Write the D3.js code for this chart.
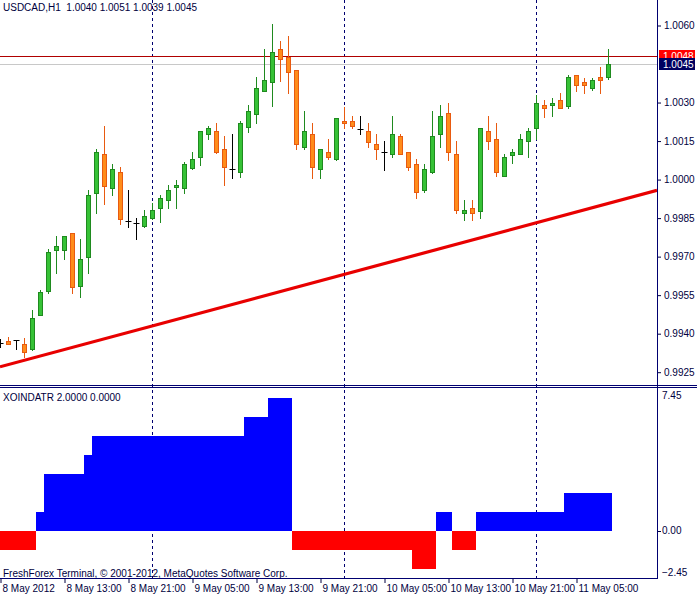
<!DOCTYPE html>
<html>
<head>
<meta charset="utf-8">
<script src="https://cdn.jsdelivr.net/npm/d3@7"></script>
<style>
html,body{margin:0;padding:0;background:#fff;}
svg{display:block;}
text{font-family:"Liberation Sans",Arial,sans-serif;font-size:10px;fill:#000040;white-space:pre;}
</style>
</head>
<body>
<div id="chart"></div>
<script>
// ---------- DATA ----------
const symbolTitle = "USDCAD,H1  1.0040 1.0051 1.0039 1.0045";
const indicatorTitle = "XOINDATR 2.0000 0.0000";
const copyright = "FreshForex Terminal, \u00A9 2001-2012, MetaQuotes Software Corp.";

const open = [
0.99362,0.99372,0.99375,0.99359,0.99339,0.99472,0.99566,0.99727,0.99727,0.99791,
0.99587,0.99700,0.99949,1.00100,0.99968,1.00028,0.99839,0.99830,0.99818,0.99849,
0.99888,0.99919,0.99970,0.99968,1.00046,1.00087,1.00176,1.00188,1.00118,1.00040,
1.00028,1.00206,1.00257,1.00346,1.00379,1.00507,1.00476,1.00426,1.00128,1.00178,
1.00040,1.00107,1.00079,1.00227,1.00227,1.00198,1.00188,1.00139,1.00107,1.00099,
1.00170,1.00107,1.00060,0.99960,1.00028,1.00176,1.00258,1.00099,0.99869,0.99888,
0.99879,1.00189,1.00158,1.00015,1.00097,1.00099,1.00149,1.00200,1.00289,1.00289,
1.00309,1.00288,1.00407,1.00379,1.00356,1.00398,1.00400];
const high = [
0.99379,0.99388,0.99376,0.99382,0.99492,0.99570,0.99730,0.99780,0.99780,0.99792,
0.99769,0.99960,1.00119,1.00209,1.00061,1.00049,0.99960,0.99849,0.99882,0.99908,
0.99940,0.99979,0.99998,1.00070,1.00107,1.00189,1.00209,1.00219,1.00170,1.00178,
1.00228,1.00290,1.00398,1.00509,1.00606,1.00540,1.00559,1.00427,1.00268,1.00220,
1.00119,1.00158,1.00240,1.00282,1.00248,1.00248,1.00219,1.00178,1.00150,1.00248,
1.00178,1.00108,1.00079,1.00060,1.00267,1.00290,1.00297,1.00150,0.99921,0.99921,
1.00201,1.00246,1.00220,1.00099,1.00119,1.00176,1.00200,1.00329,1.00310,1.00318,
1.00337,1.00408,1.00408,1.00397,1.00397,1.00437,1.00510];
const low = [
0.99348,0.99358,0.99339,0.99310,0.99338,0.99471,0.99560,0.99637,0.99690,0.99560,
0.99542,0.99637,0.99869,0.99906,0.99939,0.99828,0.99817,0.99768,0.99817,0.99848,
0.99836,0.99888,0.99888,0.99949,1.00040,1.00057,1.00157,1.00105,0.99979,1.00007,
1.00009,1.00187,1.00219,1.00345,1.00288,1.00385,1.00336,1.00118,1.00118,1.00007,
1.00007,1.00079,1.00078,1.00200,1.00200,1.00176,1.00128,1.00079,1.00037,1.00087,
1.00098,1.00037,0.99927,0.99951,1.00027,1.00128,1.00076,0.99869,0.99843,0.99843,
0.99849,1.00118,1.00015,1.00014,1.00066,1.00098,1.00087,1.00157,1.00245,1.00246,
1.00277,1.00278,1.00346,1.00336,1.00349,1.00336,1.00390];
const close = [
0.99362,0.99359,0.99375,0.99330,0.99460,0.99561,0.99719,0.99740,0.99779,0.99581,
0.99690,0.99939,1.00106,0.99975,1.00040,0.99848,0.99839,0.99830,0.99857,0.99880,
0.99927,0.99960,0.99979,1.00061,1.00079,1.00188,1.00201,1.00106,1.00048,1.00040,
1.00219,1.00267,1.00356,1.00387,1.00496,1.00468,1.00418,1.00137,1.00188,1.00048,
1.00118,1.00087,1.00239,1.00219,1.00209,1.00198,1.00148,1.00118,1.00107,1.00178,
1.00099,1.00048,0.99951,1.00040,1.00169,1.00248,1.00106,0.99882,0.99880,0.99869,
1.00200,1.00149,1.00028,1.00088,1.00106,1.00158,1.00189,1.00297,1.00278,1.00297,
1.00278,1.00398,1.00367,1.00367,1.00387,1.00387,1.00450];

const xoindatr = [
-1,-1,-1,-1,-1, 1, 3,3,3,3,3, 4,
5,5,5,5,5,5,5,5,5,5,5,5,5,5,5,5,5,5,5,
6,6,6, 7,7,7,
-1,-1,-1,-1,-1,-1,-1,-1,-1,-1,-1,-1,-1,-1,-1,
-2,-2,-2, 1,1, -1,-1,-1,
1,1,1,1,1,1,1,1,1,1,1,
2,2,2,2,2,2];

const priceTicks = [0.9925,0.9940,0.9955,0.9970,0.9985,1.0000,1.0015,1.0030,1.0060];
const indTicks = [7.45, 0.00, -2.45];
const timeLabelBars = [0,8,16,24,32,40,48,56,64,72];
const timeLabels = ["8 May 2012","8 May 13:00","8 May 21:00","9 May 05:00","9 May 13:00",
                    "9 May 21:00","10 May 05:00","10 May 13:00","10 May 21:00","11 May 05:00"];
const daySeparatorBars = [19,43,67];
const trendBars = [0, 82];
const trendPrices = [0.99271, 0.99957];
const levelPrice = 1.0048;
const bidPrice = 1.0045;

// ---------- LAYOUT ----------
const W = 697, H = 597;
const plotRight = 657;
const mainTop = 0, mainBottom = 385;
const indTop = 388, indBottom = 578;
const navy = "#000070";

const x = d3.scaleLinear().domain([0, 82.125]).range([0, plotRight]);
const y = d3.scaleLinear().domain([0.9925, 1.0060]).range([372.2, 25.5]);
const yi = d3.scaleLinear().domain([-2.45, 7.45]).range([577.5, 389.5]);

const svg = d3.select("#chart").append("svg").attr("width", W).attr("height", H);
svg.append("rect").attr("width", W).attr("height", H).attr("fill", "#fff");

const defs = svg.append("defs");
defs.append("clipPath").attr("id","clipMain").append("rect")
  .attr("x",0).attr("y",mainTop).attr("width",plotRight).attr("height",mainBottom-mainTop);
defs.append("clipPath").attr("id","clipInd").append("rect")
  .attr("x",0).attr("y",indTop).attr("width",plotRight).attr("height",indBottom-indTop);

const cx = i => Math.round(x(i));
const cy = p => Math.round(y(p));

// day separators
svg.append("g").selectAll("line").data(daySeparatorBars).join("line")
  .attr("x1", d => cx(d)+0.5).attr("x2", d => cx(d)+0.5)
  .attr("y1", mainTop).attr("y2", indBottom)
  .attr("stroke", navy).attr("stroke-width",1).attr("stroke-dasharray","3,3");

// level lines
const main = svg.append("g").attr("clip-path","url(#clipMain)");
main.append("line").attr("x1",0).attr("x2",plotRight)
  .attr("y1", cy(bidPrice)+0.5).attr("y2", cy(bidPrice)+0.5)
  .attr("stroke","#c8c8c8").attr("stroke-width",1);
main.append("line").attr("x1",0).attr("x2",plotRight)
  .attr("y1", cy(levelPrice)+0.5).attr("y2", cy(levelPrice)+0.5)
  .attr("stroke","#b00000").attr("stroke-width",1);

// trend line (ray extended to plot edge)
const slope = (trendPrices[1]-trendPrices[0])/(trendBars[1]-trendBars[0]);
const endBar = x.invert(plotRight);
main.append("line")
  .attr("x1", x(trendBars[0])).attr("y1", y(trendPrices[0]))
  .attr("x2", x(endBar)).attr("y2", y(trendPrices[0] + slope*(endBar-trendBars[0])))
  .attr("stroke","#e80000").attr("stroke-width",3.2);

// candles
const bars = d3.range(open.length).map(i => ({i, o:open[i], h:high[i], l:low[i], c:close[i]}));
const cg = main.append("g");
bars.forEach(b => {
  const xc = cx(b.i) + 0.5;
  if (b.o === b.c) {
    cg.append("line").attr("x1",xc).attr("x2",xc).attr("y1",cy(b.h)).attr("y2",cy(b.l)+1)
      .attr("stroke","#000").attr("stroke-width",1);
    cg.append("line").attr("x1",xc-3).attr("x2",xc+3).attr("y1",cy(b.o)+0.5).attr("y2",cy(b.o)+0.5)
      .attr("stroke","#000").attr("stroke-width",1);
    return;
  }
  const up = b.c > b.o;
  const edge = up ? "#1f8a1f" : "#e85a10";
  const fill = up ? "#36c236" : "#ff8c1a";
  cg.append("line").attr("x1",xc).attr("x2",xc).attr("y1",cy(b.h)).attr("y2",cy(b.l)+1)
    .attr("stroke",edge).attr("stroke-width",1);
  const top = cy(Math.max(b.o,b.c)), bot = cy(Math.min(b.o,b.c));
  cg.append("rect").attr("x", xc-2).attr("y", top+0.5)
    .attr("width",4).attr("height", Math.max(1, bot-top))
    .attr("fill",fill).attr("stroke",edge).attr("stroke-width",1);
});

// indicator histogram
const ind = svg.append("g").attr("clip-path","url(#clipInd)");
ind.selectAll("rect").data(xoindatr).join("rect")
  .attr("x", (d,i) => x(i-0.5))
  .attr("width", x(1)-x(0))
  .attr("y", d => Math.min(yi(d), Math.round(yi(0))))
  .attr("height", d => Math.abs(Math.round(yi(0)) - yi(d)))
  .attr("fill", d => d >= 0 ? "#0000ff" : "#ff0000")
  .attr("shape-rendering","crispEdges");

// frames / axes lines
svg.append("line").attr("x1",0).attr("x2",W).attr("y1",mainBottom+0.5).attr("y2",mainBottom+0.5)
  .attr("stroke",navy);
svg.append("line").attr("x1",0).attr("x2",W).attr("y1",indTop-0.5).attr("y2",indTop-0.5)
  .attr("stroke",navy);
svg.append("line").attr("x1",0).attr("x2",plotRight+1).attr("y1",indBottom+0.5).attr("y2",indBottom+0.5)
  .attr("stroke",navy);
svg.append("line").attr("x1",plotRight+0.5).attr("x2",plotRight+0.5).attr("y1",0).attr("y2",indBottom+1)
  .attr("stroke",navy);

// price axis
const pAxis = d3.axisRight(y).tickValues(priceTicks).tickSize(3).tickPadding(3)
  .tickFormat(d3.format(".4f"));
const pg = svg.append("g").attr("transform",`translate(${plotRight+1},0)`).call(pAxis);
pg.select(".domain").remove();
pg.selectAll(".tick line").attr("stroke","#000040");
pg.selectAll(".tick text").attr("fill","#000040").style("font-size","10px")
  .style("font-family","'Liberation Sans',Arial,sans-serif");

// price label boxes (the bid box is drawn over the level box, as in the terminal)
defs.append("clipPath").attr("id","clipLevel").append("rect")
  .attr("x",plotRight+2).attr("y",cy(levelPrice)-6).attr("width",W-plotRight-4)
  .attr("height",(cy(bidPrice)-6)-(cy(levelPrice)-6));
function priceBox(p, bg, clip){
  const yy = cy(p);
  const g = svg.append("g");
  if (clip) g.attr("clip-path", `url(#${clip})`);
  g.append("rect").attr("x",plotRight+2).attr("y",yy-6).attr("width",W-plotRight-4).attr("height",12)
    .attr("fill",bg);
  g.append("text").attr("x",plotRight+6).attr("y",yy).attr("dy","0.35em")
    .style("fill","#fff").text(d3.format(".4f")(p));
}
priceBox(levelPrice, "#ff0000", "clipLevel");
priceBox(bidPrice, "#000060", null);

// indicator axis
const ig = svg.append("g");
ig.selectAll("text").data(indTicks).join("text")
  .attr("x", plotRight+5)
  .attr("y", d => Math.max(indTop+7, Math.min(indBottom-6, yi(d))))
  .attr("dy","0.35em")
  .text(d => d3.format(".2f")(d));
ig.append("line").attr("x1",plotRight+1).attr("x2",plotRight+4)
  .attr("y1",Math.round(yi(0))+0.5).attr("y2",Math.round(yi(0))+0.5).attr("stroke","#000040");

// time axis
const tAxis = d3.axisBottom(x).tickValues(timeLabelBars).tickSize(4).tickPadding(2)
  .tickFormat((d,i) => timeLabels[i]);
const tg = svg.append("g").attr("transform",`translate(0,${indBottom+1})`).call(tAxis);
tg.select(".domain").remove();
tg.selectAll(".tick line").attr("stroke","#000040").attr("transform","translate(0.5,0)");
tg.selectAll(".tick text").attr("text-anchor","start").attr("x",2).attr("fill","#000040")
  .style("font-size","10px").style("font-family","'Liberation Sans',Arial,sans-serif");

// titles
svg.append("text").attr("x",3).attr("y",7).attr("dy","0.35em").text(symbolTitle);
svg.append("text").attr("x",3).attr("y",397).attr("dy","0.35em").text(indicatorTitle);
svg.append("text").attr("x",3).attr("y",573).attr("dy","0.35em").text(copyright);
</script>
</body>
</html>
